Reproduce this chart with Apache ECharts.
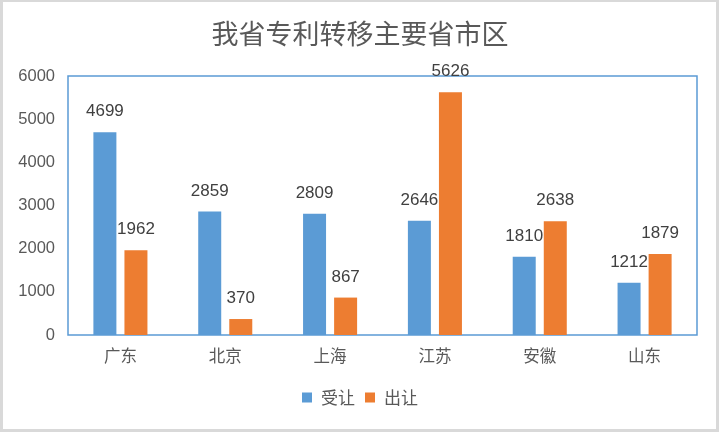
<!DOCTYPE html>
<html><head><meta charset="utf-8">
<script src="https://cdn.jsdelivr.net/npm/echarts@6/dist/echarts.min.js"></script>
<style>html,body{margin:0;padding:0;background:#fff}#c{width:720px;height:433px}</style>
</head><body><div id="c"></div>
<script>
var categories = ['广东','北京','上海','江苏','安徽','山东'];
var shouRang = [4699,2859,2809,2646,1810,1212];
var chuRang = [1962,370,867,5626,2638,1879];
var yTicks = [0,1000,2000,3000,4000,5000,6000];

var chart = echarts.init(document.getElementById('c'));
var ff = 'Liberation Sans, Noto Sans CJK SC, sans-serif';
var lbl = {show:true, position:'top', distance:12, color:'#404040', fontSize:17, fontFamily:ff};
chart.setOption({
  animation:false,
  graphic:[{type:'rect', shape:{x:1.5,y:0.5,width:716,height:430}, style:{fill:'none', stroke:'#d9d9d9', lineWidth:3}, silent:true}],
  title:{text:'我省专利转移主要省市区', left:'center', top:15, textStyle:{fontSize:27, fontWeight:'normal', color:'#595959', fontFamily:'Noto Sans CJK SC, sans-serif'}},
  grid:{left:68, top:76, right:23, bottom:98, show:true, borderColor:'#5B9BD5', borderWidth:1.5},
  legend:{bottom:22, left:'center', itemWidth:10, itemHeight:10, itemGap:10, icon:'rect',
    textStyle:{fontSize:17, color:'#595959', fontFamily:'Noto Sans CJK SC, sans-serif', padding:[0,0,0,4]},
    data:['受让','出让']},
  xAxis:{type:'category', data:categories, axisLine:{show:false}, axisTick:{show:false},
    axisLabel:{fontSize:16.5, color:'#595959', margin:12, fontFamily:'Noto Sans CJK SC, sans-serif'}},
  yAxis:{type:'value', min:yTicks[0], max:yTicks[yTicks.length-1], interval:1000, splitLine:{show:false},
    axisLine:{show:false}, axisTick:{show:false},
    axisLabel:{fontSize:16.5, color:'#595959', margin:13, fontFamily:ff, formatter:function(v){return String(v);}}},
  series:[
    {name:'受让', type:'bar', data:shouRang, barWidth:23, barGap:'35%', itemStyle:{color:'#5B9BD5'}, label:lbl},
    {name:'出让', type:'bar', data:chuRang, barWidth:23, barGap:'35%', itemStyle:{color:'#ED7D31'}, label:lbl}
  ]
});
</script></body></html>
